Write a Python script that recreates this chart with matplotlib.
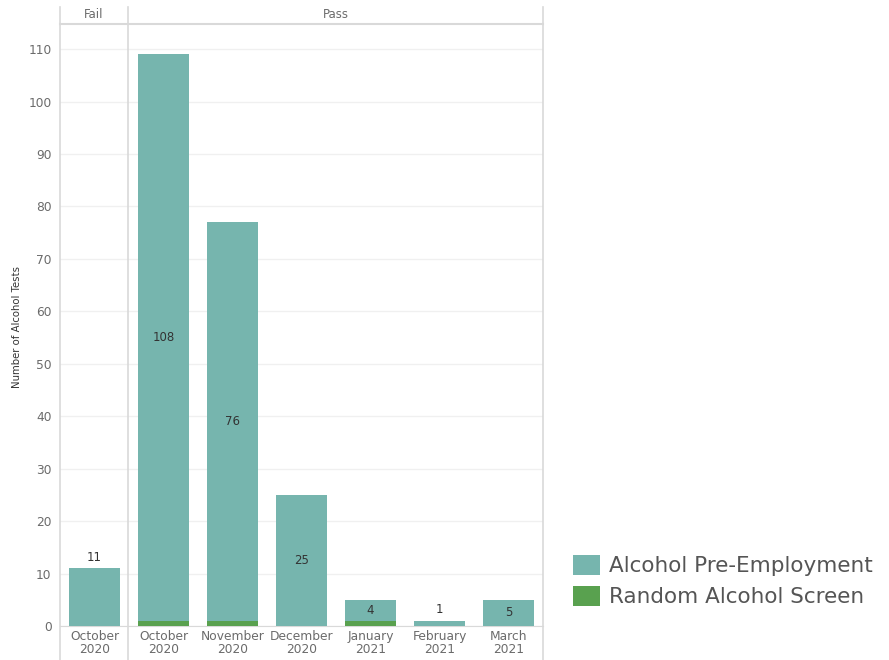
import matplotlib
matplotlib.use("Agg")
import matplotlib.pyplot as plt
from matplotlib.patches import Patch
from matplotlib.lines import Line2D

plt.rcParams['font.family'] = ['DejaVu Sans']

categories = ["October\n2020", "October\n2020", "November\n2020", "December\n2020",
              "January\n2021", "February\n2021", "March\n2021"]
panes = ["Fail", "Pass", "Pass", "Pass", "Pass", "Pass", "Pass"]
pre_employment = [11, 108, 76, 25, 4, 1, 5]
random_screen = [0, 1, 1, 0, 1, 0, 0]
series_names = ["Alcohol Pre-Employment", "Random Alcohol Screen"]

teal = "#76B5AE"
green = "#59A14F"
grey_txt = "#6b6b6b"
line_c = "#d9d9d9"

fig = plt.figure(figsize=(8.89, 6.6), dpi=100)
W, H = 889, 660
x0, x1, y_top, y_bot = 60, 543, 24, 626
ax = fig.add_axes([x0 / W, 1 - y_bot / H, (x1 - x0) / W, (y_bot - y_top) / H])

xs = list(range(len(categories)))
ax.bar(xs, random_screen, width=0.75, color=green, zorder=3)
ax.bar(xs, pre_employment, width=0.75, bottom=random_screen, color=teal, zorder=3)

ymax = 114.8
ax.set_xlim(-0.5, len(categories) - 0.5)
ax.set_ylim(0, ymax)

for x, p, r, pane in zip(xs, pre_employment, random_screen, panes):
    total = p + r
    if pane == "Fail" or p < 2:
        ax.text(x, total + 0.9, str(p), ha="center", va="bottom", fontsize=8.5, color="#333333", zorder=4)
    else:
        ax.text(x, r + p / 2, str(p), ha="center", va="center", fontsize=8.5, color="#333333", zorder=4)

ax.set_yticks(range(0, 111, 10))
ax.set_yticklabels([str(v) for v in range(0, 111, 10)])
ax.yaxis.grid(True, color="#f0f0f0", linewidth=1, zorder=0)
ax.set_xticks(xs)
ax.set_xticklabels(categories, linespacing=0.95)
ax.tick_params(axis="both", length=0, labelsize=8.8, labelcolor=grey_txt)
ax.tick_params(axis="x", pad=3)
ax.tick_params(axis="y", pad=6)
for s in ["top", "right", "left"]:
    ax.spines[s].set_visible(False)
ax.spines["bottom"].set_color(line_c)
fig.text(17 / W, 1 - 327 / H, "Number of Alcohol Tests", rotation=90, ha="center", va="center",
         fontsize=7.3, color="#333333")

# pane separators and header
for px in (60, 128, 543):
    fig.add_artist(Line2D([px / W, px / W], [1 - 7 / H, 0], color=line_c, linewidth=1.2))
fig.add_artist(Line2D([x0 / W, x1 / W], [1 - 24 / H, 1 - 24 / H], color=line_c, linewidth=1.5))
fig.text((60 + 128) / 2 / W, 1 - 15 / H, "Fail", ha="center", va="center", fontsize=8.5, color=grey_txt)
fig.text((128 + 543) / 2 / W, 1 - 15 / H, "Pass", ha="center", va="center", fontsize=8.5, color=grey_txt)

handles = [Patch(facecolor=teal, label=series_names[0]), Patch(facecolor=green, label=series_names[1])]
fig.legend(handles=handles, loc="center left", bbox_to_anchor=(564 / W, 1 - 581 / H), frameon=False,
           fontsize=15.5, labelcolor="#555555", handlelength=1.25, handleheight=1.05,
           handletextpad=0.45, labelspacing=0.45, borderaxespad=0)

fig.savefig("out.png", dpi=100)
